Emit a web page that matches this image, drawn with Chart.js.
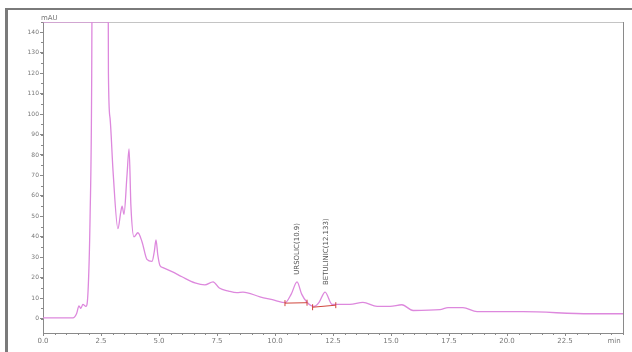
<!DOCTYPE html>
<html>
<head>
<meta charset="utf-8">
<script src="https://cdn.jsdelivr.net/npm/chart.js@4"></script>
<style>
  html, body { margin: 0; padding: 0; background: #fff; }
  #wrap { width: 632px; height: 352px; position: relative; }
</style>
</head>
<body>
<div id="wrap"><canvas id="chrom"></canvas></div>
<script>
// retention time (min) and signal (mAU)
const times = [
  0.0, 1.29, 1.45, 1.55, 1.63, 1.72, 1.85, 1.94, 2.03, 2.1, 2.18,
  2.75, 2.82, 2.89, 3.02, 3.23, 3.35, 3.41, 3.49, 3.62, 3.71, 3.79,
  3.92, 4.09, 4.27, 4.48, 4.7, 4.8, 4.87, 4.95, 5.04, 5.17, 5.56,
  5.99, 6.55, 6.98, 7.33, 7.6, 8.0, 8.36, 8.62, 9.35, 10.0, 10.43,
  10.7, 10.95, 11.15, 11.38, 11.68, 11.9, 12.16, 12.46, 13.23, 13.79,
  14.4, 14.96, 15.47, 15.95, 17.11, 17.46, 18.1, 18.71, 20.69, 23.58, 25.0
];
const mAU = [
  0.4, 0.4, 2.5, 6.3, 5.0, 7.0, 6.0, 13, 50, 120, 400,
  400, 120, 98, 72, 44, 52, 55, 51, 70, 83, 55,
  40, 42, 37.5, 29, 28, 33, 38.5, 31, 26, 25, 23,
  20.5, 17.5, 16.5, 18, 15, 13.5, 12.7, 13, 10.7, 9.0, 7.8,
  12, 18, 12, 8, 6, 8, 13, 7, 7, 8,
  6, 6, 6.8, 4, 4.4, 5.4, 5.4, 3.4, 3.4, 2.4, 2.4
];

// off-scale band along the top edge
const offscaleTimes = [0.0, 2.8];
const offscaleLevel = [145.5, 145.5];

// integration baselines drawn under the two identified peaks
const baseStart = [[10.43, 7.6], [11.62, 5.6]];
const baseEnd = [[11.38, 7.8], [12.62, 6.6]];

// peak labels
const peakTimes = [10.95, 12.2];
const peakHeights = [18, 13];
const peakNames = ["URSOLIC(10.9)", "BETULINIC(12.133)"];

const xTicks = [0, 2.5, 5, 7.5, 10, 12.5, 15, 17.5, 20, 22.5];
const yTicks = [0, 10, 20, 30, 40, 50, 60, 70, 80, 90, 100, 110, 120, 130, 140];

const traceColor = "#dd88dd";
const labelFont = "7px 'DejaVu Sans'";

const pts = times.map((t, i) => ({ x: t, y: mAU[i] }));
const offscale = offscaleTimes.map((t, i) => ({ x: t, y: offscaleLevel[i] }));

const framePlugin = {
  id: "frame",
  beforeDraw(chart) {
    const ctx = chart.ctx;
    const a = chart.chartArea;
    ctx.save();
    // outer window frame
    ctx.strokeStyle = "#7a7a7a";
    ctx.lineWidth = 2;
    ctx.beginPath();
    ctx.moveTo(5, 9);
    ctx.lineTo(632, 9);
    ctx.stroke();
    ctx.lineWidth = 3;
    ctx.beginPath();
    ctx.moveTo(6.5, 8);
    ctx.lineTo(6.5, 352);
    ctx.stroke();
    // plot box top and right
    ctx.lineWidth = 1;
    ctx.strokeStyle = "#c4c4c4";
    ctx.beginPath();
    ctx.moveTo(a.left, a.top + 0.5);
    ctx.lineTo(a.right, a.top + 0.5);
    ctx.stroke();
    ctx.strokeStyle = "#8a8a8a";
    ctx.beginPath();
    ctx.moveTo(a.right + 0.5, a.top);
    ctx.lineTo(a.right + 0.5, a.bottom);
    ctx.stroke();
    ctx.restore();
  },
  afterDraw(chart) {
    const ctx = chart.ctx;
    const xs = chart.scales.x;
    const ys = chart.scales.y;
    const a = chart.chartArea;
    ctx.save();
    // minor ticks
    ctx.strokeStyle = "#8a8a8a";
    ctx.lineWidth = 1;
    ctx.beginPath();
    for (let t = 0; t <= 25; t += 0.5) {
      const px = Math.round(xs.getPixelForValue(t)) + 0.5;
      ctx.moveTo(px, a.bottom);
      ctx.lineTo(px, a.bottom + 2);
    }
    for (let v = 0; v <= 145; v += 5) {
      const py = Math.round(ys.getPixelForValue(v)) + 0.5;
      ctx.moveTo(a.left - 2, py);
      ctx.lineTo(a.left, py);
    }
    ctx.stroke();

    // integration baselines
    ctx.strokeStyle = "#d0463c";
    ctx.lineWidth = 1;
    baseStart.forEach((s, i) => {
      const e = baseEnd[i];
      const x1 = xs.getPixelForValue(s[0]), y1 = ys.getPixelForValue(s[1]);
      const x2 = xs.getPixelForValue(e[0]), y2 = ys.getPixelForValue(e[1]);
      ctx.beginPath();
      ctx.moveTo(x1, y1);
      ctx.lineTo(x2, y2);
      ctx.moveTo(x1, y1 - 3);
      ctx.lineTo(x1, y1 + 3);
      ctx.moveTo(x2, y2 - 3);
      ctx.lineTo(x2, y2 + 3);
      ctx.stroke();
    });

    // peak labels, rotated
    ctx.fillStyle = "#555";
    ctx.font = labelFont;
    ctx.textAlign = "left";
    ctx.textBaseline = "middle";
    peakTimes.forEach((t, i) => {
      const px = xs.getPixelForValue(t);
      const py = ys.getPixelForValue(peakHeights[i]) - 7;
      ctx.save();
      ctx.translate(px, py);
      ctx.rotate(-Math.PI / 2);
      ctx.fillText(peakNames[i], 0, 0);
      ctx.restore();
    });

    // unit labels
    ctx.fillStyle = "#777";
    ctx.textAlign = "left";
    ctx.textBaseline = "alphabetic";
    ctx.fillText("mAU", a.left - 2, a.top - 2);
    ctx.textAlign = "center";
    ctx.textBaseline = "middle";
    ctx.fillText("min", a.right - 9, a.bottom + 8);
    ctx.restore();
  }
};

new Chart("chrom", {
  type: "line",
  data: {
    datasets: [
      {
        data: pts,
        borderColor: traceColor,
        borderWidth: 1.3,
        pointRadius: 0,
        cubicInterpolationMode: "monotone",
        fill: false,
      },
      {
        data: offscale,
        borderColor: traceColor,
        borderWidth: 3,
        pointRadius: 0,
        fill: false,
      },
    ],
  },
  options: {
    responsive: true,
    maintainAspectRatio: false,
    animation: false,
    layout: { padding: { left: 13, top: 22, right: 9, bottom: 0 } },
    plugins: { legend: { display: false }, tooltip: { enabled: false } },
    scales: {
      x: {
        type: "linear",
        min: 0,
        max: 25,
        afterBuildTicks: (s) => { s.ticks = xTicks.map((v) => ({ value: v })); },
        afterFit: (s) => { s.height = 19; },
        grid: { drawOnChartArea: false, tickLength: 3, color: "#8a8a8a" },
        border: { color: "#8a8a8a" },
        ticks: {
          color: "#777",
          font: { size: 7, family: "DejaVu Sans" },
          padding: 1,
          maxRotation: 0,
          autoSkip: false,
          callback: (v) => v.toFixed(1),
        },
      },
      y: {
        min: -7,
        max: 145,
        afterBuildTicks: (s) => { s.ticks = yTicks.map((v) => ({ value: v })); },
        afterFit: (s) => { s.width = 30; },
        grid: { drawOnChartArea: false, tickLength: 3, color: "#8a8a8a" },
        border: { color: "#8a8a8a" },
        ticks: {
          color: "#777",
          font: { size: 6, family: "DejaVu Sans" },
          padding: 1,
          autoSkip: false,
        },
      },
    },
  },
  plugins: [framePlugin],
});
</script>
</body>
</html>
